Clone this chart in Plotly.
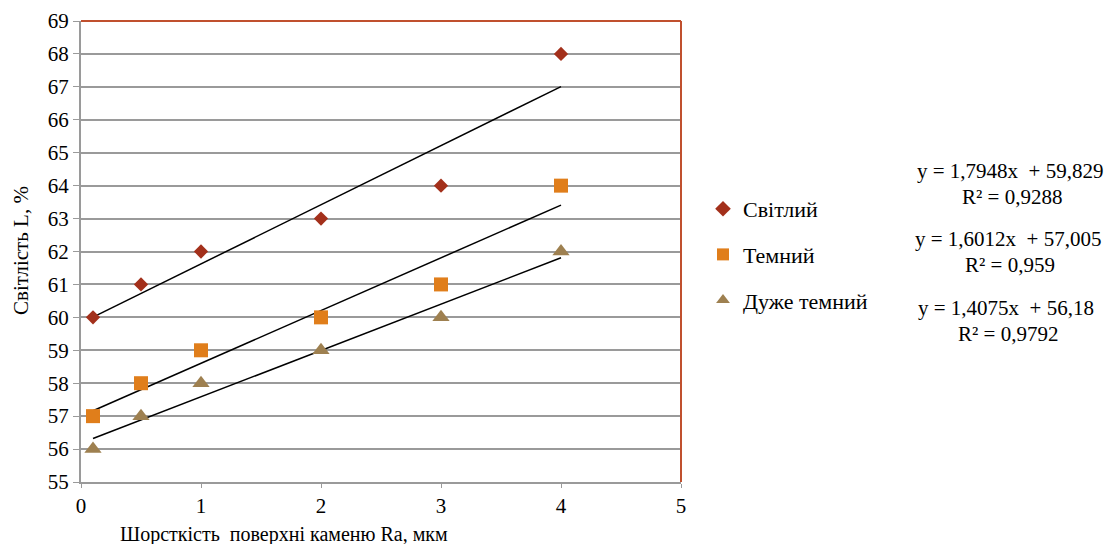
import plotly.graph_objects as go

x_vals = [0.1, 0.5, 1, 2, 3, 4]
light = [60, 61, 62, 63, 64, 68]
dark = [57, 58, 59, 60, 61, 64]
very_dark = [56, 57, 58, 59, 60, 62]
series_names = ["Світлий", "Темний", "Дуже темний"]
slopes = [1.7948, 1.6012, 1.4075]
intercepts = [59.829, 57.005, 56.18]
r2_vals = ["0,9288", "0,959", "0,9792"]
eq_texts = ["y = 1,7948x  + 59,829", "y = 1,6012x  + 57,005", "y = 1,4075x  + 56,18"]
trend_x = [0.1, 4]
y_ticks = list(range(55, 70))
x_ticks = [0, 1, 2, 3, 4, 5]

colors = ["#A3301B", "#E07E1B", "#9E8050"]
symbols = ["diamond", "square", "triangle-up"]
sizes = [11, 14, 15]
FONT = "Liberation Serif"

OFF = 8  # page body margin
L, R, T, B = 81 - OFF, 681 - OFF, 21 - OFF, 482 - OFF
W, H = 1108, 536


def px(xp):
    return (xp - OFF - L) / (R - L)


def py(yp):
    return (B - (yp - OFF)) / (B - T)


fig = go.Figure()
for s, ic in zip(slopes, intercepts):
    fig.add_trace(go.Scatter(x=trend_x, y=[s * v + ic for v in trend_x], mode="lines",
                             line=dict(color="black", width=1.5), showlegend=False, hoverinfo="skip"))
for name, ys, c, sym, sz in zip(series_names, [light, dark, very_dark], colors, symbols, sizes):
    fig.add_trace(go.Scatter(x=x_vals, y=ys, mode="markers", name=name, legendgroup=name,
                             marker=dict(color=c, symbol=sym, size=sz, line=dict(width=0))))

# plot border top/right
fig.add_shape(type="line", xref="paper", yref="paper", x0=0, x1=1, y0=1, y1=1,
              line=dict(color="#C0502E", width=2))
fig.add_shape(type="line", xref="paper", yref="paper", x0=1, x1=1, y0=0, y1=1,
              line=dict(color="#C0502E", width=2))

eq_y = [171, 239, 308]
eq_x = [1010, 1008, 1006]
for t, r, yy, xx in zip(eq_texts, r2_vals, eq_y, eq_x):
    fig.add_annotation(xref="paper", yref="paper", x=px(xx), y=py(yy),
                       text=t, showarrow=False, xanchor="center", yanchor="middle",
                       font=dict(family=FONT, size=21, color="black"))
    fig.add_annotation(xref="paper", yref="paper", x=px(xx + 2), y=py(yy + 26),
                       text="R² = " + r, showarrow=False, xanchor="center", yanchor="middle",
                       font=dict(family=FONT, size=21, color="black"))

# axis titles
fig.add_annotation(xref="paper", yref="paper", x=px(284), y=py(534),
                   text="Шорсткість  поверхні каменю Ra, мкм", showarrow=False,
                   xanchor="center", yanchor="middle", font=dict(family=FONT, size=20, color="black"))
fig.add_annotation(xref="paper", yref="paper", x=px(21), y=py(251), textangle=-90,
                   text="Світлість L, %", showarrow=False,
                   xanchor="center", yanchor="middle", font=dict(family=FONT, size=21, color="black"))

fig.update_layout(
    width=W, height=H,
    margin=dict(l=L, r=W - R, t=T, b=H - B, autoexpand=False),
    paper_bgcolor="white", plot_bgcolor="white",
    font=dict(family=FONT, size=21, color="black"),
    legend=dict(x=px(703), y=py(188), xanchor="left", yanchor="top",
                font=dict(family=FONT, size=22), itemsizing="constant", tracegroupgap=14,
                bgcolor="rgba(0,0,0,0)"),
    xaxis=dict(range=[0, 5], tickvals=x_ticks, showgrid=False, zeroline=False, automargin=False,
               showline=True, linecolor="#9A9A9A", linewidth=2, ticks="outside",
               ticklen=4, tickcolor="#9A9A9A", tickfont=dict(family=FONT, size=21)),
    yaxis=dict(range=[55, 69], tickvals=y_ticks, showgrid=True, gridcolor="#9A9A9A", gridwidth=1.5,
               zeroline=False, showline=True, linecolor="#9A9A9A", linewidth=2, ticks="outside",
               ticklen=6, tickcolor="#9A9A9A", automargin=False, tickfont=dict(family=FONT, size=21)),
)

fig.write_html("out.html")
